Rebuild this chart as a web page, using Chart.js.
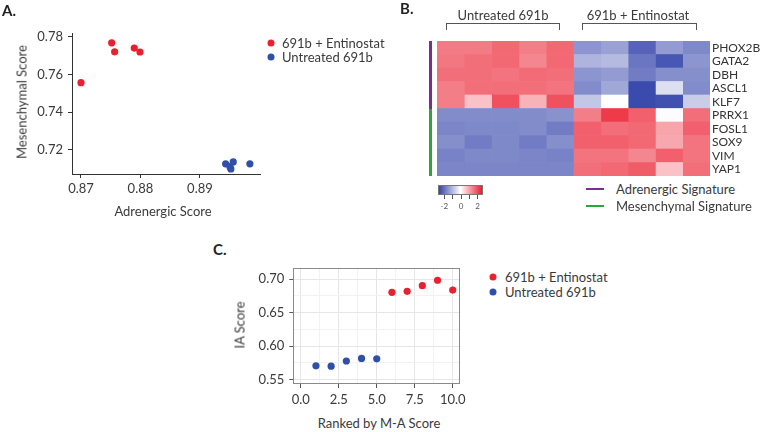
<!DOCTYPE html>
<html>
<head>
<meta charset="utf-8">
<script src="https://cdn.jsdelivr.net/npm/chart.js@4.4.0/dist/chart.umd.min.js"></script>
<style>
body { margin: 0; width: 762px; height: 432px; position: relative; background: #fff; font-family: Lato, sans-serif; color: #3a3a3a; overflow: hidden; }
canvas { position: absolute; }
.t { position: absolute; font-size: 13px; white-space: nowrap; line-height: 1; }
.c { transform: translate(-50%, -50%); }
.r { transform: translate(-50%, -50%) rotate(-90deg); }
.m { transform: translateY(-50%); }
.letter { position: absolute; font-size: 15px; font-weight: bold; color: #222; line-height: 1; }
.dot { position: absolute; width: 7px; height: 7px; border-radius: 50%; transform: translate(-50%, -50%); }
.bracket { position: absolute; height: 6px; border: 1px solid #555; border-bottom: none; }
.vbar { position: absolute; width: 3px; }
.hline { position: absolute; height: 2px; width: 18px; }
.tick { position: absolute; width: 1px; height: 4px; background: #555; }
.small { position: absolute; font-size: 8px; color: #555; transform: translate(-50%, -50%); line-height: 1; }
</style>
</head>
<body>
<canvas id="chartA" width="270" height="230" style="left:0;top:0;width:270px;height:230px"></canvas>
<canvas id="chartC" width="240" height="155" style="left:230px;top:255px;width:240px;height:155px"></canvas>
<canvas id="heat" width="325" height="135" style="left:437px;top:41px;width:325px;height:135px"></canvas>

<div class="letter" style="left:2px;top:3px">A.</div>
<div class="letter" style="left:400px;top:1px">B.</div>
<div class="letter" style="left:213px;top:242px">C.</div>

<!-- panel A titles and legend -->
<div class="t r" style="left:22px;top:102px">Mesenchymal Score</div>
<div class="t c" style="left:163px;top:211px">Adrenergic Score</div>
<div class="dot" style="left:271px;top:43px;background:#e8202f"></div>
<div class="t m" style="left:282px;top:43px">691b + Entinostat</div>
<div class="dot" style="left:271px;top:57px;background:#2f4fa8"></div>
<div class="t m" style="left:282px;top:57px">Untreated 691b</div>

<!-- panel C titles and legend -->
<div class="t r" style="left:240px;top:325px">IA Score</div>
<div class="t c" style="left:379px;top:423px">Ranked by M-A Score</div>
<div class="dot" style="left:493px;top:277px;background:#e8202f"></div>
<div class="t m" style="left:505px;top:277px">691b + Entinostat</div>
<div class="dot" style="left:493px;top:292px;background:#2f4fa8"></div>
<div class="t m" style="left:505px;top:292px">Untreated 691b</div>

<!-- panel B annotations -->
<div id="hdr0" class="t c" style="left:503px;top:15px"></div>
<div id="hdr1" class="t c" style="left:638px;top:15px"></div>
<div class="bracket" style="left:446px;top:23px;width:112px"></div>
<div class="bracket" style="left:582px;top:23px;width:113px"></div>
<div class="vbar" style="left:429px;top:41px;height:68px;background:#7b2d92"></div>
<div class="vbar" style="left:429px;top:109px;height:67px;background:#27a83c"></div>
<div id="cbar" style="position:absolute;left:438px;top:185px;width:45px;height:10px;box-sizing:border-box;border:1px solid #777"></div>
<div id="cticks"></div>
<div class="hline" style="left:586px;top:188px;background:#7b2d92"></div>
<div class="t m" style="left:616px;top:189px">Adrenergic Signature</div>
<div class="hline" style="left:586px;top:205px;background:#27a83c"></div>
<div class="t m" style="left:616px;top:206px">Mesenchymal Signature</div>

<script>
// Panel A: adrenergic vs mesenchymal score
const aAdrenTreated = [0.8700, 0.87516, 0.87566, 0.87896, 0.87992];
const aMesenTreated = [0.7556, 0.7768, 0.7720, 0.7740, 0.7719];
const aAdrenUntreated = [0.89432, 0.89504, 0.8952, 0.8956, 0.8984];
const aMesenUntreated = [0.7125, 0.7110, 0.7098, 0.7135, 0.7125];
const aTicksX = [0.87, 0.88, 0.89];
const aTicksY = [0.72, 0.74, 0.76, 0.78];

// Panel C: IA score by rank
const cRankUntreated = [1, 2, 3, 4, 5];
const cIAUntreated = [0.5705, 0.5700, 0.5777, 0.5815, 0.5810];
const cRankTreated = [6, 7, 8, 9, 10];
const cIATreated = [0.6805, 0.6820, 0.6905, 0.6986, 0.6838];
const cTicksX = [0, 2.5, 5, 7.5, 10];
const cTicksY = [0.55, 0.60, 0.65, 0.70];

// Panel B: heatmap (z-scores), columns = 5 untreated then 5 entinostat
const groupNames = ['Untreated 691b', '691b + Entinostat'];
const sampleNames = ['U1', 'U2', 'U3', 'U4', 'U5', 'E1', 'E2', 'E3', 'E4', 'E5'];
const genes = ['PHOX2B', 'GATA2', 'DBH', 'ASCL1', 'KLF7', 'PRRX1', 'FOSL1', 'SOX9', 'VIM', 'YAP1'];
const hPHOX2B = [1.75, 1.75, 2.0, 1.7, 2.0, -1.7, -1.5, -2.5, -1.6, -1.9];
const hGATA2  = [1.8, 1.9, 2.0, 1.6, 2.0, -1.2, -1.1, -2.2, -2.7, -1.7];
const hDBH    = [1.9, 1.9, 1.85, 1.95, 1.9, -1.7, -1.6, -2.1, -1.8, -1.8];
const hASCL1  = [1.7, 1.9, 1.9, 1.9, 1.85, -1.85, -1.4, -2.9, -0.5, -1.85];
const hKLF7   = [1.7, 0.8, 2.3, 1.0, 2.3, -0.9, 0.0, -2.9, -2.8, -0.8];
const hPRRX1  = [-1.85, -1.85, -1.85, -1.85, -1.75, 1.7, 2.6, 2.1, -0.05, 1.9];
const hFOSL1  = [-1.95, -1.9, -1.9, -1.85, -2.1, 2.1, 1.9, 2.0, 1.2, 2.1];
const hSOX9   = [-1.8, -2.1, -1.9, -2.1, -1.8, 2.1, 2.1, 2.0, 1.15, 1.85];
const hVIM    = [-2.0, -1.9, -1.9, -1.95, -2.0, 1.85, 1.85, 1.6, 2.1, 1.85];
const hYAP1   = [-1.95, -1.95, -1.95, -1.95, -1.95, 1.9, 2.0, 2.15, 0.8, 1.9];
const heatRows = [hPHOX2B, hGATA2, hDBH, hASCL1, hKLF7, hPRRX1, hFOSL1, hSOX9, hVIM, hYAP1];
const cbarTicks = [-2, -1, 0, 1, 2];
const cbarLabels = [-2, 0, 2];

const RED = '#e8202f';
const BLUE = '#2f4fa8';

Chart.defaults.font.family = 'Lato, sans-serif';
Chart.defaults.font.size = 13;
Chart.defaults.color = '#3a3a3a';

function heatColor(v) {
    const t = Math.max(-1, Math.min(1, v / 3));
    const end = t < 0 ? [52, 68, 170] : [235, 28, 45];
    const a = Math.abs(t);
    const c = end.map(e => Math.round(255 + (e - 255) * a));
    return `rgb(${c[0]},${c[1]},${c[2]})`;
}

function pts(xs, ys) {
    return xs.map((x, i) => ({x: x, y: ys[i]}));
}

// --- Panel A ---
new Chart(document.getElementById('chartA'), {
    type: 'scatter',
    data: {
        datasets: [
            {data: pts(aAdrenTreated, aMesenTreated), backgroundColor: RED, pointRadius: 3.6, borderWidth: 0},
            {data: pts(aAdrenUntreated, aMesenUntreated), backgroundColor: BLUE, pointRadius: 3.6, borderWidth: 0}
        ]
    },
    options: {
        responsive: false,
        animation: false,
        layout: {padding: {top: 33, right: 10, left: 0, bottom: 0}},
        plugins: {legend: {display: false}, tooltip: {enabled: false}},
        scales: {
            x: {
                min: 0.86849, max: 0.9001,
                afterBuildTicks: s => { s.ticks = aTicksX.map(v => ({value: v})); },
                afterFit: s => { s.height = 56; },
                grid: {drawOnChartArea: false, tickLength: 4, color: '#333'},
                border: {color: '#333'},
                ticks: {padding: 3, callback: v => v.toFixed(2)}
            },
            y: {
                min: 0.7071, max: 0.782,
                afterBuildTicks: s => { s.ticks = aTicksY.map(v => ({value: v})); },
                afterFit: s => { s.width = 72; },
                grid: {drawOnChartArea: false, tickLength: 4, color: '#333'},
                border: {color: '#333'},
                ticks: {padding: 5, callback: v => v.toFixed(2)}
            }
        }
    }
});

// --- Panel C ---
function withMinor(majors) {
    const out = [];
    majors.forEach((v, i) => {
        out.push({value: v});
        if (i < majors.length - 1) out.push({value: (v + majors[i + 1]) / 2});
    });
    return out;
}
function isMajor(list, v) {
    return list.some(m => Math.abs(m - v) < 1e-9);
}

const boxBorder = {
    id: 'boxBorder',
    afterDraw(chart) {
        const a = chart.chartArea;
        const ctx = chart.ctx;
        ctx.save();
        ctx.strokeStyle = '#8a8a8a';
        ctx.lineWidth = 1;
        ctx.strokeRect(Math.round(a.left) + 0.5, Math.round(a.top) + 0.5,
            Math.round(a.right - a.left) - 1, Math.round(a.bottom - a.top) - 1);
        ctx.restore();
    }
};

new Chart(document.getElementById('chartC'), {
    type: 'scatter',
    data: {
        datasets: [
            {data: pts(cRankTreated, cIATreated), backgroundColor: RED, pointRadius: 3.6, borderWidth: 0},
            {data: pts(cRankUntreated, cIAUntreated), backgroundColor: BLUE, pointRadius: 3.6, borderWidth: 0}
        ]
    },
    options: {
        responsive: false,
        animation: false,
        layout: {padding: {top: 7.7, right: 9.3, left: 0, bottom: 0}},
        plugins: {legend: {display: false}, tooltip: {enabled: false}},
        scales: {
            x: {
                min: -0.49, max: 10.5,
                afterBuildTicks: s => { s.ticks = withMinor(cTicksX); },
                afterFit: s => { s.height = 26; },
                grid: {
                    tickLength: 4,
                    color: c => isMajor(cTicksX, c.tick.value) ? '#e6e6e6' : '#f2f2f2',
                    tickColor: c => isMajor(cTicksX, c.tick.value) ? '#555' : 'rgba(0,0,0,0)'
                },
                border: {display: false},
                ticks: {padding: 4, autoSkip: false, maxRotation: 0,
                    callback: v => isMajor(cTicksX, v) ? v.toFixed(1) : ''}
            },
            y: {
                min: 0.5433, max: 0.7172,
                afterBuildTicks: s => { s.ticks = withMinor(cTicksY); },
                afterFit: s => { s.width = 63.3; },
                grid: {
                    tickLength: 4,
                    color: c => isMajor(cTicksY, c.tick.value) ? '#e6e6e6' : '#f2f2f2',
                    tickColor: c => isMajor(cTicksY, c.tick.value) ? '#555' : 'rgba(0,0,0,0)'
                },
                border: {display: false},
                ticks: {padding: 5, autoSkip: false,
                    callback: v => isMajor(cTicksY, v) ? v.toFixed(2) : ''}
            }
        }
    },
    plugins: [boxBorder]
});

// --- Panel B heatmap ---
new Chart(document.getElementById('heat'), {
    type: 'bar',
    data: {
        labels: genes,
        datasets: sampleNames.map((s, c) => ({
            label: s,
            data: genes.map(() => 1),
            backgroundColor: heatRows.map(r => heatColor(r[c])),
            borderWidth: 0,
            barPercentage: 1,
            categoryPercentage: 1
        }))
    },
    options: {
        indexAxis: 'y',
        responsive: false,
        animation: false,
        layout: {padding: 0},
        plugins: {legend: {display: false}, tooltip: {enabled: false}},
        scales: {
            x: {stacked: true, display: false, min: 0, max: sampleNames.length},
            y: {
                stacked: true,
                position: 'right',
                grid: {display: false, drawTicks: false},
                border: {display: false},
                afterFit: s => { s.width = 52; s.paddingTop = 0; s.paddingBottom = 0; },
                ticks: {padding: 2, color: '#333', font: {size: 12}, autoSkip: false}
            }
        }
    }
});

// headers and colour key
document.getElementById('hdr0').textContent = groupNames[0];
document.getElementById('hdr1').textContent = groupNames[1];
document.getElementById('cbar').style.background =
    `linear-gradient(to right, ${heatColor(-3)}, ${heatColor(-1.5)}, #ffffff, ${heatColor(1.5)}, ${heatColor(3)})`;
const tickBox = document.getElementById('cticks');
const cbLeft = 438, cbW = 45, cbRange = 2.7;
const cbX = v => cbLeft + (v + cbRange) / (2 * cbRange) * cbW;
cbarTicks.forEach(v => {
    const d = document.createElement('div');
    d.className = 'tick';
    d.style.left = Math.round(cbX(v)) + 'px';
    d.style.top = '195px';
    tickBox.appendChild(d);
});
cbarLabels.forEach(v => {
    const d = document.createElement('div');
    d.className = 'small';
    d.style.left = (cbX(v) + 0.5) + 'px';
    d.style.top = '206px';
    d.textContent = v;
    tickBox.appendChild(d);
});
</script>
</body>
</html>
